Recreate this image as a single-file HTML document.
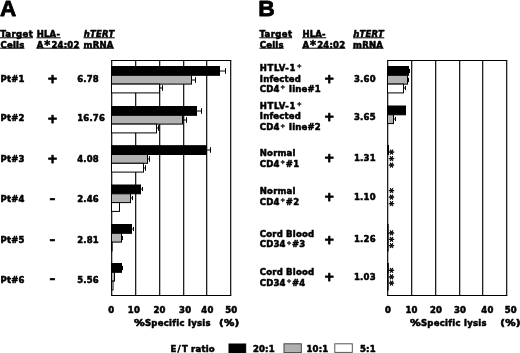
<!DOCTYPE html>
<html><head><meta charset="utf-8"><title>Figure</title>
<style>
html,body{margin:0;padding:0;background:#fff;}
body{width:520px;height:353px;overflow:hidden;}
svg{display:block;}
.t{font-family:"DejaVu Sans","Liberation Sans",sans-serif;font-weight:bold;fill:#000;stroke:#000;stroke-width:0.55px;stroke-linejoin:round;letter-spacing:0.2px;}
.p{stroke-width:0.8px;}
.s{stroke-width:0.4px;}
.m{stroke-width:0.6px;}
.h{font-family:"Liberation Sans","DejaVu Sans",sans-serif;font-weight:bold;fill:#000;stroke:#000;stroke-width:0.8px;stroke-linejoin:round;}
</style></head><body>
<svg width="520" height="353" viewBox="0 0 520 353">
<rect x="0" y="0" width="520" height="353" fill="#fff"/>
<text class="h" x="0.1" y="16.0" font-size="22.5" text-anchor="start" >A</text>
<text class="h" x="258.3" y="16.4" font-size="22.8" text-anchor="start" >B</text>
<text class="t" x="0.2" y="36.7" font-size="8.5" text-anchor="start" style="letter-spacing:0.4px">Target</text>
<line x1="0.0" y1="37.8" x2="32.9" y2="37.8" stroke="#000" stroke-width="1"/>
<text class="t" x="0.5" y="47.6" font-size="8.5" text-anchor="start" >Cells</text>
<line x1="0.2" y1="48.2" x2="24.5" y2="48.2" stroke="#000" stroke-width="1"/>
<text class="t" x="36.7" y="36.7" font-size="8.5" text-anchor="start" >HLA-</text>
<line x1="36.400000000000006" y1="37.8" x2="60.6" y2="37.8" stroke="#000" stroke-width="1"/>
<text class="t" x="36.7" y="47.6" font-size="8.5" text-anchor="start" >A<tspan font-size="11.5" dx="0.8" dy="1.5">*</tspan><tspan dx="1.0" dy="-1.5">24:02</tspan></text>
<line x1="36.400000000000006" y1="48.2" x2="79.7" y2="48.2" stroke="#000" stroke-width="1"/>
<text class="t" x="83.8" y="36.7" font-size="8.5" text-anchor="start" font-style="italic">hTERT</text>
<line x1="83.6" y1="37.8" x2="114.8" y2="37.8" stroke="#000" stroke-width="1"/>
<text class="t" x="83.6" y="47.6" font-size="8.5" text-anchor="start" >mRNA</text>
<line x1="83.3" y1="48.2" x2="114.1" y2="48.2" stroke="#000" stroke-width="1"/>
<text class="t" x="0.5" y="82.3" font-size="8.5" text-anchor="start" >Pt#1</text>
<text class="t p" x="52.699999999999996" y="83.4" font-size="12.6" text-anchor="middle" >+</text>
<text class="t" x="77.2" y="82.3" font-size="8.5" text-anchor="start" >6.78</text>
<text class="t" x="0.5" y="121.0" font-size="8.5" text-anchor="start" >Pt#2</text>
<text class="t p" x="52.699999999999996" y="122.5" font-size="12.6" text-anchor="middle" >+</text>
<text class="t" x="77.2" y="121.0" font-size="8.5" text-anchor="start" >16.76</text>
<text class="t" x="0.5" y="162.1" font-size="8.5" text-anchor="start" >Pt#3</text>
<text class="t p" x="52.699999999999996" y="162.9" font-size="12.6" text-anchor="middle" >+</text>
<text class="t" x="77.2" y="162.1" font-size="8.5" text-anchor="start" >4.08</text>
<text class="t" x="0.5" y="201.6" font-size="8.5" text-anchor="start" >Pt#4</text>
<text class="t m" x="52.6" y="202.5" font-size="11.5" text-anchor="middle" >–</text>
<text class="t" x="77.2" y="201.6" font-size="8.5" text-anchor="start" >2.46</text>
<text class="t" x="0.5" y="242.7" font-size="8.5" text-anchor="start" >Pt#5</text>
<text class="t m" x="52.6" y="243.5" font-size="11.5" text-anchor="middle" >–</text>
<text class="t" x="77.2" y="242.7" font-size="8.5" text-anchor="start" >2.81</text>
<text class="t" x="0.5" y="282.5" font-size="8.5" text-anchor="start" >Pt#6</text>
<text class="t m" x="52.6" y="283.20000000000005" font-size="11.5" text-anchor="middle" >–</text>
<text class="t" x="77.2" y="282.5" font-size="8.5" text-anchor="start" >5.56</text>
<line x1="111.7" y1="60.5" x2="111.7" y2="295.5" stroke="#000" stroke-width="1.15"/>
<line x1="135.7" y1="60.5" x2="135.7" y2="295.5" stroke="#000" stroke-width="1.15"/>
<line x1="159.7" y1="60.5" x2="159.7" y2="295.5" stroke="#000" stroke-width="1.15"/>
<line x1="183.7" y1="60.5" x2="183.7" y2="295.5" stroke="#000" stroke-width="1.15"/>
<line x1="206.7" y1="60.5" x2="206.7" y2="295.5" stroke="#000" stroke-width="1.15"/>
<line x1="230.7" y1="60.5" x2="230.7" y2="295.5" stroke="#000" stroke-width="1.15"/>
<line x1="111.1" y1="60.5" x2="231.3" y2="60.5" stroke="#000" stroke-width="1.15"/>
<line x1="111.1" y1="295.5" x2="231.3" y2="295.5" stroke="#000" stroke-width="1.15"/>
<rect x="111.5" y="66.5" width="108" height="8.8" fill="#000" stroke="#000" stroke-width="1"/>
<line x1="219.5" y1="71.0" x2="226.0" y2="71.0" stroke="#000" stroke-width="1"/>
<line x1="225.5" y1="68.2" x2="225.5" y2="73.8" stroke="#000" stroke-width="1"/>
<rect x="111.5" y="75.3" width="80" height="8.8" fill="#b2b2b2" stroke="#000" stroke-width="1"/>
<line x1="191.5" y1="80.0" x2="196.0" y2="80.0" stroke="#000" stroke-width="1"/>
<line x1="195.5" y1="77.2" x2="195.5" y2="82.8" stroke="#000" stroke-width="1"/>
<rect x="111.5" y="84.1" width="48" height="8.8" fill="#fff" stroke="#000" stroke-width="1"/>
<line x1="159.5" y1="88.0" x2="163.0" y2="88.0" stroke="#000" stroke-width="1"/>
<line x1="162.5" y1="85.2" x2="162.5" y2="90.8" stroke="#000" stroke-width="1"/>
<rect x="111.5" y="106.5" width="85" height="8.8" fill="#000" stroke="#000" stroke-width="1"/>
<line x1="196.5" y1="111.0" x2="202.0" y2="111.0" stroke="#000" stroke-width="1"/>
<line x1="201.5" y1="108.2" x2="201.5" y2="113.8" stroke="#000" stroke-width="1"/>
<rect x="111.5" y="115.3" width="71" height="8.8" fill="#b2b2b2" stroke="#000" stroke-width="1"/>
<line x1="182.5" y1="120.0" x2="187.0" y2="120.0" stroke="#000" stroke-width="1"/>
<line x1="186.5" y1="117.2" x2="186.5" y2="122.8" stroke="#000" stroke-width="1"/>
<rect x="111.5" y="124.1" width="45" height="8.8" fill="#fff" stroke="#000" stroke-width="1"/>
<line x1="156.5" y1="128.0" x2="159.0" y2="128.0" stroke="#000" stroke-width="1"/>
<line x1="158.5" y1="125.2" x2="158.5" y2="130.8" stroke="#000" stroke-width="1"/>
<rect x="111.5" y="145.7" width="95" height="8.8" fill="#000" stroke="#000" stroke-width="1"/>
<line x1="206.5" y1="150.0" x2="211.0" y2="150.0" stroke="#000" stroke-width="1"/>
<line x1="210.5" y1="147.2" x2="210.5" y2="152.8" stroke="#000" stroke-width="1"/>
<rect x="111.5" y="154.5" width="36" height="8.8" fill="#b2b2b2" stroke="#000" stroke-width="1"/>
<line x1="147.5" y1="159.0" x2="150.0" y2="159.0" stroke="#000" stroke-width="1"/>
<line x1="149.5" y1="156.2" x2="149.5" y2="161.8" stroke="#000" stroke-width="1"/>
<rect x="111.5" y="163.29999999999998" width="32" height="8.8" fill="#fff" stroke="#000" stroke-width="1"/>
<line x1="143.5" y1="168.0" x2="146.0" y2="168.0" stroke="#000" stroke-width="1"/>
<line x1="145.5" y1="165.2" x2="145.5" y2="170.8" stroke="#000" stroke-width="1"/>
<rect x="111.5" y="185.0" width="29" height="8.8" fill="#000" stroke="#000" stroke-width="1"/>
<line x1="140.5" y1="189.0" x2="143.0" y2="189.0" stroke="#000" stroke-width="1"/>
<line x1="142.5" y1="186.9" x2="142.5" y2="191.1" stroke="#000" stroke-width="1"/>
<rect x="111.5" y="193.8" width="19" height="8.8" fill="#b2b2b2" stroke="#000" stroke-width="1"/>
<line x1="130.5" y1="198.0" x2="133.0" y2="198.0" stroke="#000" stroke-width="1"/>
<line x1="132.5" y1="195.9" x2="132.5" y2="200.1" stroke="#000" stroke-width="1"/>
<rect x="111.5" y="202.6" width="8" height="8.8" fill="#fff" stroke="#000" stroke-width="1"/>
<rect x="111.5" y="224.5" width="20" height="8.8" fill="#000" stroke="#000" stroke-width="1"/>
<line x1="131.5" y1="229.0" x2="134.0" y2="229.0" stroke="#000" stroke-width="1"/>
<line x1="133.5" y1="226.9" x2="133.5" y2="231.1" stroke="#000" stroke-width="1"/>
<rect x="111.5" y="233.3" width="10" height="8.8" fill="#b2b2b2" stroke="#000" stroke-width="1"/>
<line x1="121.5" y1="238.0" x2="123.0" y2="238.0" stroke="#000" stroke-width="1"/>
<line x1="122.5" y1="235.9" x2="122.5" y2="240.1" stroke="#000" stroke-width="1"/>
<rect x="111.5" y="242.1" width="0.5999999999999943" height="8.8" fill="#fff" stroke="#000" stroke-width="1"/>
<rect x="111.5" y="263.5" width="10" height="8.8" fill="#000" stroke="#000" stroke-width="1"/>
<line x1="121.5" y1="268.0" x2="123.0" y2="268.0" stroke="#000" stroke-width="1"/>
<line x1="122.5" y1="265.9" x2="122.5" y2="270.1" stroke="#000" stroke-width="1"/>
<rect x="111.5" y="272.3" width="3" height="8.8" fill="#b2b2b2" stroke="#000" stroke-width="1"/>
<rect x="111.5" y="281.1" width="1.5" height="8.8" fill="#fff" stroke="#000" stroke-width="1"/>
<text class="t" x="111.3" y="313.3" font-size="8.5" text-anchor="middle" >0</text>
<text class="t" x="133.9" y="313.3" font-size="8.5" text-anchor="middle" >10</text>
<text class="t" x="159.5" y="313.3" font-size="8.5" text-anchor="middle" >20</text>
<text class="t" x="185.2" y="313.3" font-size="8.5" text-anchor="middle" >30</text>
<text class="t" x="207.4" y="313.3" font-size="8.5" text-anchor="middle" >40</text>
<text class="t" x="231.3" y="313.3" font-size="8.5" text-anchor="middle" >50</text>
<text class="t" x="134.0" y="326.4" font-size="8.5" text-anchor="start" textLength="11.0" lengthAdjust="spacingAndGlyphs">%</text>
<text class="t" x="144.9" y="326.4" font-size="8.5" text-anchor="start" style="letter-spacing:0.28px">Specific lysis</text>
<text class="t" x="219.0" y="326.4" font-size="8.5" text-anchor="start" textLength="20.6" lengthAdjust="spacingAndGlyphs">(%)</text>
<text class="t" x="259.5" y="36.7" font-size="8.5" text-anchor="start" style="letter-spacing:0.4px">Target</text>
<line x1="259.3" y1="37.8" x2="292.2" y2="37.8" stroke="#000" stroke-width="1"/>
<text class="t" x="259.8" y="47.6" font-size="8.5" text-anchor="start" >Cells</text>
<line x1="259.5" y1="48.2" x2="283.8" y2="48.2" stroke="#000" stroke-width="1"/>
<text class="t" x="302.4" y="36.7" font-size="8.5" text-anchor="start" >HLA-</text>
<line x1="302.09999999999997" y1="37.8" x2="326.29999999999995" y2="37.8" stroke="#000" stroke-width="1"/>
<text class="t" x="302.4" y="47.6" font-size="8.5" text-anchor="start" >A<tspan font-size="11.5" dx="0.8" dy="1.5">*</tspan><tspan dx="1.0" dy="-1.5">24:02</tspan></text>
<line x1="302.09999999999997" y1="48.2" x2="345.4" y2="48.2" stroke="#000" stroke-width="1"/>
<text class="t" x="353.3" y="36.7" font-size="8.5" text-anchor="start" font-style="italic">hTERT</text>
<line x1="353.1" y1="37.8" x2="384.3" y2="37.8" stroke="#000" stroke-width="1"/>
<text class="t" x="353.1" y="47.6" font-size="8.5" text-anchor="start" >mRNA</text>
<line x1="352.8" y1="48.2" x2="383.6" y2="48.2" stroke="#000" stroke-width="1"/>
<text class="t" x="259.8" y="71.1" font-size="8.5" text-anchor="start" style="letter-spacing:0.6px">HTLV-1<tspan dx="0.7" dy="-2.7" font-size="6" stroke-width="0.3">+</tspan></text>
<text class="t" x="259.8" y="81.7" font-size="8.5" text-anchor="start" >Infected</text>
<text class="t" x="259.8" y="91.8" font-size="8.5" text-anchor="start" >CD4<tspan dx="0.7" dy="-2.7" font-size="6" stroke-width="0.3">+</tspan><tspan dx="0.3" dy="2.7"> </tspan>line#1</text>
<text class="t p" x="329.3" y="82.7" font-size="12.6" text-anchor="middle" >+</text>
<text class="t" x="354.0" y="81.7" font-size="8.5" text-anchor="start" >3.60</text>
<text class="t" x="259.8" y="108.5" font-size="8.5" text-anchor="start" style="letter-spacing:0.6px">HTLV-1<tspan dx="0.7" dy="-2.7" font-size="6" stroke-width="0.3">+</tspan></text>
<text class="t" x="259.8" y="119.3" font-size="8.5" text-anchor="start" >Infected</text>
<text class="t" x="259.8" y="130.2" font-size="8.5" text-anchor="start" >CD4<tspan dx="0.7" dy="-2.7" font-size="6" stroke-width="0.3">+</tspan><tspan dx="0.3" dy="2.7"> </tspan>line#2</text>
<text class="t p" x="329.3" y="120.65" font-size="12.6" text-anchor="middle" >+</text>
<text class="t" x="354.0" y="120.2" font-size="8.5" text-anchor="start" >3.65</text>
<text class="t" x="259.8" y="155.5" font-size="8.5" text-anchor="start" >Normal</text>
<text class="t" x="259.8" y="167.0" font-size="8.5" text-anchor="start" >CD4<tspan dx="0.7" dy="-2.7" font-size="6" stroke-width="0.3">+</tspan><tspan dx="0.3" dy="2.7">#</tspan>1</text>
<text class="t p" x="329.3" y="162.15" font-size="12.6" text-anchor="middle" >+</text>
<text class="t" x="354.0" y="161.3" font-size="8.5" text-anchor="start" >1.31</text>
<text class="t" x="259.8" y="194.3" font-size="8.5" text-anchor="start" >Normal</text>
<text class="t" x="259.8" y="205.0" font-size="8.5" text-anchor="start" >CD4<tspan dx="0.7" dy="-2.7" font-size="6" stroke-width="0.3">+</tspan><tspan dx="0.3" dy="2.7">#</tspan>2</text>
<text class="t p" x="329.3" y="200.9" font-size="12.6" text-anchor="middle" >+</text>
<text class="t" x="354.0" y="200.1" font-size="8.5" text-anchor="start" >1.10</text>
<text class="t" x="259.8" y="236.7" font-size="8.5" text-anchor="start" >Cord Blood</text>
<text class="t" x="259.8" y="247.2" font-size="8.5" text-anchor="start" >CD34<tspan dx="0.7" dy="-2.7" font-size="6" stroke-width="0.3">+</tspan><tspan dx="0.3" dy="2.7">#</tspan>3</text>
<text class="t p" x="329.3" y="243.65" font-size="12.6" text-anchor="middle" >+</text>
<text class="t" x="354.0" y="242.2" font-size="8.5" text-anchor="start" >1.26</text>
<text class="t" x="259.8" y="274.7" font-size="8.5" text-anchor="start" >Cord Blood</text>
<text class="t" x="259.8" y="285.9" font-size="8.5" text-anchor="start" >CD34<tspan dx="0.7" dy="-2.7" font-size="6" stroke-width="0.3">+</tspan><tspan dx="0.3" dy="2.7">#</tspan>4</text>
<text class="t p" x="329.3" y="281.15" font-size="12.6" text-anchor="middle" >+</text>
<text class="t" x="354.0" y="280.3" font-size="8.5" text-anchor="start" >1.03</text>
<line x1="387.7" y1="60.5" x2="387.7" y2="295.5" stroke="#000" stroke-width="1.15"/>
<line x1="411.7" y1="60.5" x2="411.7" y2="295.5" stroke="#000" stroke-width="1.15"/>
<line x1="435.7" y1="60.5" x2="435.7" y2="295.5" stroke="#000" stroke-width="1.15"/>
<line x1="459.7" y1="60.5" x2="459.7" y2="295.5" stroke="#000" stroke-width="1.15"/>
<line x1="482.7" y1="60.5" x2="482.7" y2="295.5" stroke="#000" stroke-width="1.15"/>
<line x1="506.7" y1="60.5" x2="506.7" y2="295.5" stroke="#000" stroke-width="1.15"/>
<line x1="387.1" y1="60.5" x2="507.3" y2="60.5" stroke="#000" stroke-width="1.15"/>
<line x1="387.1" y1="295.5" x2="507.3" y2="295.5" stroke="#000" stroke-width="1.15"/>
<rect x="387.5" y="66.5" width="21" height="8.8" fill="#000" stroke="#000" stroke-width="1"/>
<line x1="408.5" y1="71.0" x2="410.0" y2="71.0" stroke="#000" stroke-width="1"/>
<line x1="409.5" y1="68.9" x2="409.5" y2="73.1" stroke="#000" stroke-width="1"/>
<rect x="387.5" y="75.3" width="20" height="8.8" fill="#b2b2b2" stroke="#000" stroke-width="1"/>
<line x1="407.5" y1="80.0" x2="409.0" y2="80.0" stroke="#000" stroke-width="1"/>
<line x1="408.5" y1="77.9" x2="408.5" y2="82.1" stroke="#000" stroke-width="1"/>
<rect x="387.5" y="84.1" width="16" height="8.8" fill="#fff" stroke="#000" stroke-width="1"/>
<line x1="403.5" y1="88.0" x2="406.0" y2="88.0" stroke="#000" stroke-width="1"/>
<line x1="405.5" y1="85.9" x2="405.5" y2="90.1" stroke="#000" stroke-width="1"/>
<rect x="387.5" y="106.0" width="18" height="8.8" fill="#000" stroke="#000" stroke-width="1"/>
<rect x="387.5" y="114.8" width="6" height="8.8" fill="#b2b2b2" stroke="#000" stroke-width="1"/>
<line x1="393.5" y1="119.0" x2="396.0" y2="119.0" stroke="#000" stroke-width="1"/>
<line x1="395.5" y1="116.9" x2="395.5" y2="121.1" stroke="#000" stroke-width="1"/>
<rect x="387.5" y="145.5" width="1.0" height="8.8" fill="#000" stroke="#000" stroke-width="1"/>
<rect x="387.5" y="224.5" width="0.6000000000000227" height="8.8" fill="#000" stroke="#000" stroke-width="1"/>
<rect x="387.5" y="233.3" width="0.6000000000000227" height="8.8" fill="#b2b2b2" stroke="#000" stroke-width="1"/>
<rect x="387.5" y="242.1" width="0.6000000000000227" height="8.8" fill="#fff" stroke="#000" stroke-width="1"/>
<rect x="387.5" y="263.5" width="0.8000000000000114" height="8.8" fill="#000" stroke="#000" stroke-width="1"/>
<rect x="387.5" y="272.3" width="0.6000000000000227" height="8.8" fill="#b2b2b2" stroke="#000" stroke-width="1"/>
<rect x="387.5" y="281.1" width="0.6000000000000227" height="8.8" fill="#fff" stroke="#000" stroke-width="1"/>
<text class="t" x="388.0" y="313.3" font-size="8.5" text-anchor="middle" >0</text>
<text class="t" x="411.5" y="313.3" font-size="8.5" text-anchor="middle" >10</text>
<text class="t" x="436.0" y="313.3" font-size="8.5" text-anchor="middle" >20</text>
<text class="t" x="460.0" y="313.3" font-size="8.5" text-anchor="middle" >30</text>
<text class="t" x="487.4" y="313.3" font-size="8.5" text-anchor="middle" >40</text>
<text class="t" x="510.8" y="313.3" font-size="8.5" text-anchor="middle" >50</text>
<text class="t" x="410.0" y="326.4" font-size="8.5" text-anchor="start" textLength="11.0" lengthAdjust="spacingAndGlyphs">%</text>
<text class="t" x="420.9" y="326.4" font-size="8.5" text-anchor="start" style="letter-spacing:0.28px">Specific lysis</text>
<text class="t" x="500.2" y="326.4" font-size="8.5" text-anchor="start" textLength="20.6" lengthAdjust="spacingAndGlyphs">(%)</text>
<text class="t s" font-size="10" text-anchor="middle" style="letter-spacing:1.2px" transform="translate(385.6,159.2) rotate(90)">***</text>
<text class="t s" font-size="10" text-anchor="middle" style="letter-spacing:1.2px" transform="translate(385.6,197.7) rotate(90)">***</text>
<text class="t s" font-size="10" text-anchor="middle" style="letter-spacing:1.2px" transform="translate(385.6,239.9) rotate(90)">***</text>
<text class="t s" font-size="10" text-anchor="middle" style="letter-spacing:1.2px" transform="translate(385.6,277.4) rotate(90)">***</text>
<text class="t" x="170.6" y="351.7" font-size="8.5" text-anchor="start" >E<tspan dx="1.0">/</tspan><tspan dx="1.0">T</tspan> ratio</text>
<rect x="229.0" y="344.0" width="16.7" height="10" fill="#000" stroke="#000" stroke-width="1"/>
<text class="t" x="252.9" y="351.7" font-size="8.5" text-anchor="start" >20:1</text>
<rect x="284.0" y="343.8" width="17.3" height="8.8" fill="#b0b0b0" stroke="#444" stroke-width="1"/>
<text class="t" x="306.5" y="351.7" font-size="8.5" text-anchor="start" >10:1</text>
<rect x="334.8" y="343.8" width="17.5" height="8.6" fill="#fff" stroke="#555" stroke-width="1"/>
<text class="t" x="360.0" y="351.7" font-size="8.5" text-anchor="start" >5:1</text>
</svg>
</body></html>
